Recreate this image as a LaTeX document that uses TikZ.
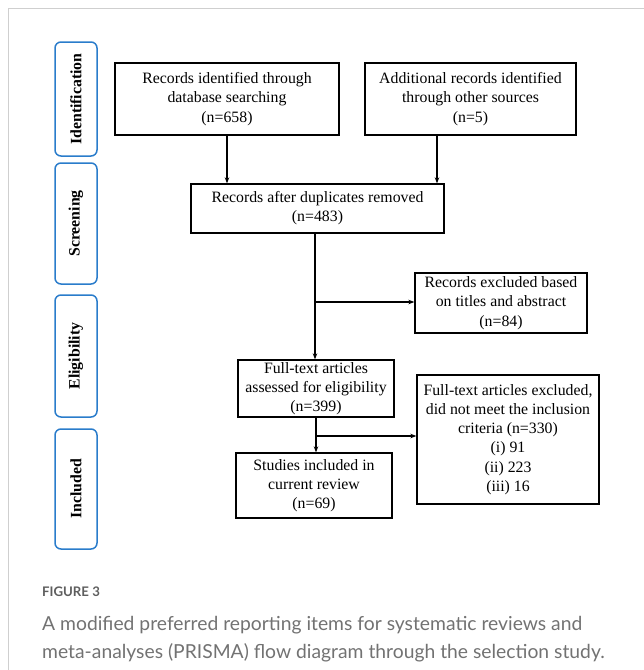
\documentclass[tikz,border=0pt]{standalone}
\usepackage{fontspec}
\setmainfont{Liberation Serif}
\newfontfamily\capfont{Lato}
\usetikzlibrary{arrows.meta}
\definecolor{lblblue}{HTML}{2A7CCB}
\definecolor{framegray}{HTML}{CFCFCF}
\definecolor{capgray}{HTML}{727272}
\definecolor{figgray}{HTML}{5E5E5E}
\tikzset{
  flowbox/.style={draw=black, line width=1.3pt, inner sep=0pt, align=center,
    font=\fontsize{15.8}{19.2}\selectfont},
  stagebox/.style={draw=lblblue, line width=1.5pt, rounded corners=6pt, inner sep=0pt,
    minimum width=42pt},
  stagetext/.style={rotate=90, font=\fontsize{15.8}{18}\selectfont\bfseries},
  conn/.style={line width=1.1pt, -{Stealth[length=6pt,width=4.5pt]}},
  captext/.style={anchor=base west, inner sep=0pt, text=capgray, font=\capfont\fontsize{19.3}{28}\selectfont},
}
\begin{document}
\begin{tikzpicture}[x=1pt,y=-1pt]
\useasboundingbox (0,0) rectangle (644,670);
% frame
\draw[framegray, line width=1.8pt] (8.5,670) -- (8.5,8.5) -- (644,8.5);
% stage labels
\node[stagebox, minimum height=114pt] (ident) at (76,99) {};
\node[stagetext] (identt) at (ident.center) {Identification};
\node[stagebox, minimum height=121pt] (screen) at (76,223.5) {};
\node[stagetext] (screent) at (screen.center) {Screening};
\node[stagebox, minimum height=122pt] (elig) at (76,356) {};
\node[stagetext] (eligt) at (elig.center) {Eligibility};
\node[stagebox, minimum height=120pt] (incl) at (76,489) {};
\node[stagetext] (inclt) at (incl.center) {Included};
% flow boxes
\node[flowbox, minimum width=224pt, minimum height=72pt] (rec1) at (227,99)
  {Records identified through\\database searching\\(n=658)};
\node[flowbox, minimum width=211pt, minimum height=72pt] (rec2) at (470.5,99)
  {Additional records identified\\through other sources\\(n=5)};
\node[flowbox, minimum width=253pt, minimum height=49pt] (dup) at (317.5,208.5)
  {Records after duplicates removed\\(n=483)};
\node[flowbox, minimum width=172pt, minimum height=60pt] (exc1) at (501,303)
  {Records excluded based\\on titles and abstract\\(n=84)};
\node[flowbox, minimum width=156pt, minimum height=57pt] (full) at (316,388.5)
  {Full-text articles\\assessed for eligibility\\(n=399)};
\node[flowbox, minimum width=182pt, minimum height=129pt] (exc2) at (508,439.5)
  {Full-text articles excluded,\\did not meet the inclusion\\criteria (n=330)\\(i) 91\\(ii) 223\\(iii) 16};
\node[flowbox, minimum width=156pt, minimum height=65pt] (stud) at (314,485.5)
  {Studies included in\\current review\\(n=69)};
% connectors
\coordinate (r2out) at (437,135);
\coordinate (b1) at (315,302);
\coordinate (b2) at (316,436);
\draw[conn] (rec1.south) -- (rec1.south |- dup.north);
\draw[conn] (r2out) -- (r2out |- dup.north);
\draw[conn] (dup.south -| b1) -- (b1 |- full.north);
\draw[conn] (b1) -- (exc1.west |- b1);
\draw[conn] (full.south -| b2) -- (b2 |- stud.north);
\draw[conn] (b2) -- (exc2.west |- b2);
% caption
\node[anchor=base west, inner sep=0pt, text=figgray, font=\capfont\bfseries\fontsize{13.2}{16}\selectfont] (figlbl) at (42,596) {FIGURE 3};
\node[captext] (cap1) at (42,630) {A modified preferred reporting items for systematic reviews and};
\node[captext] (cap2) at (42,658) {meta-analyses (PRISMA) flow diagram through the selection study.};
\end{tikzpicture}
\end{document}
